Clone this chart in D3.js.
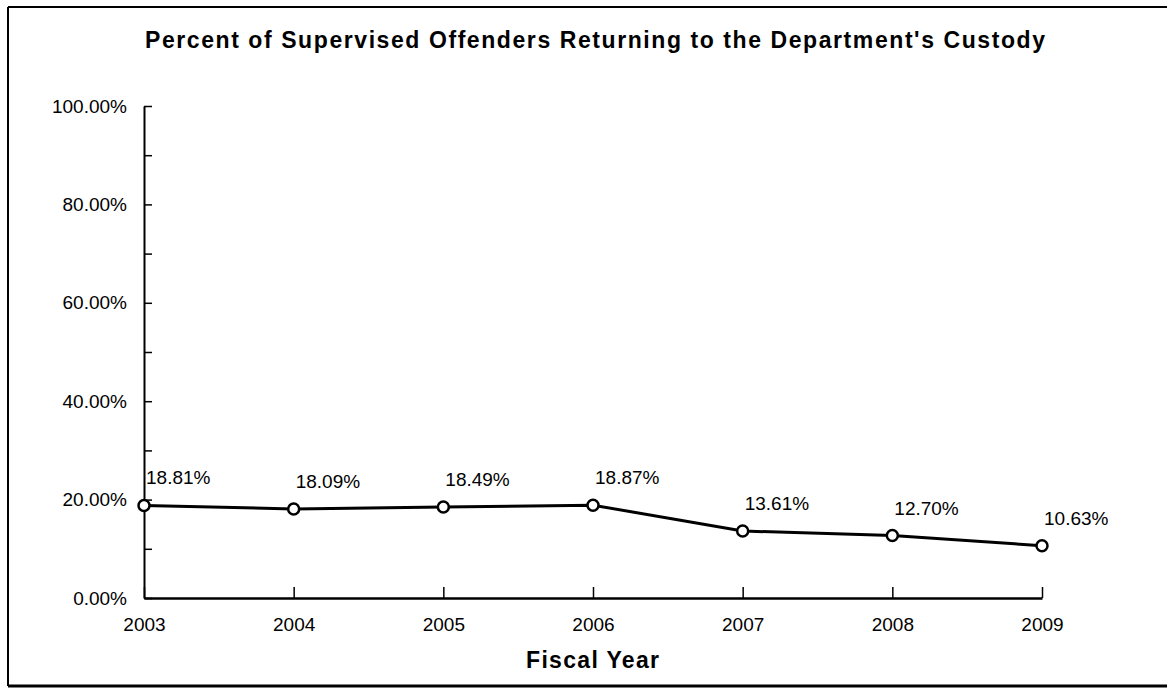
<!DOCTYPE html>
<html>
<head>
<meta charset="utf-8">
<script src="https://cdn.jsdelivr.net/npm/d3@7"></script>
<style>
  html, body { margin: 0; padding: 0; background: #fff; }
  svg { display: block; }
  text { font-family: "Liberation Sans", Arial, sans-serif; fill: #000; }
</style>
</head>
<body>
<svg id="chart" width="1167" height="690"></svg>
<script>
const title = "Percent of Supervised Offenders Returning to the Department's Custody";
const xTitle = "Fiscal Year";
const years = ["2003", "2004", "2005", "2006", "2007", "2008", "2009"];
const values = [18.81, 18.09, 18.49, 18.87, 13.61, 12.70, 10.63];
const yLabelTicks = [0, 20, 40, 60, 80, 100];
const yMinorTicks = [0, 10, 20, 30, 40, 50, 60, 70, 80, 90, 100];

const svg = d3.select("#chart");

// frame (top, left, bottom)
svg.append("line").attr("x1", 8).attr("x2", 1167).attr("y1", 7).attr("y2", 7)
  .attr("stroke", "#000").attr("stroke-width", 2);
svg.append("line").attr("x1", 8).attr("x2", 8).attr("y1", 7).attr("y2", 686)
  .attr("stroke", "#000").attr("stroke-width", 2);
svg.append("line").attr("x1", 8).attr("x2", 1167).attr("y1", 686).attr("y2", 686)
  .attr("stroke", "#000").attr("stroke-width", 3);

const x = d3.scalePoint().domain(years).range([144, 1042]);
const y = d3.scaleLinear().domain([0, 100]).range([598, 106]);

// title
svg.append("text")
  .attr("x", 145).attr("y", 48)
  .attr("textLength", 900).attr("lengthAdjust", "spacing")
  .style("font-size", "23px").style("font-weight", "bold")
  .text(title);

// y axis labels + domain line
const yAxis = svg.append("g").attr("transform", "translate(144,0)")
  .call(d3.axisLeft(y).tickValues(yLabelTicks).tickSize(0).tickSizeOuter(0).tickPadding(17)
    .tickFormat(d => d.toFixed(2) + "%"));
yAxis.select(".domain").attr("stroke", "#000").attr("stroke-width", 2);
yAxis.selectAll("text").style("font-size", "19px").style("font-family", "Liberation Sans, Arial, sans-serif");

// y inward ticks
const yTicks = svg.append("g").attr("transform", "translate(144,0)")
  .call(d3.axisRight(y).tickValues(yMinorTicks).tickSize(8).tickSizeOuter(0).tickFormat(""));
yTicks.select(".domain").remove();
yTicks.selectAll("line").attr("stroke", "#000").attr("stroke-width", 1.5);

// x axis labels + domain
const xAxis = svg.append("g").attr("transform", "translate(0,598)")
  .call(d3.axisBottom(x).tickSize(0).tickSizeOuter(0).tickPadding(20));
xAxis.select(".domain").attr("stroke", "#000").attr("stroke-width", 2.5);
xAxis.selectAll("text").style("font-size", "19px").style("font-family", "Liberation Sans, Arial, sans-serif");

// x inward ticks
const xTicks = svg.append("g").attr("transform", "translate(0,598)")
  .call(d3.axisTop(x).tickSize(11).tickSizeOuter(0).tickFormat(""));
xTicks.select(".domain").remove();
xTicks.selectAll("line").attr("stroke", "#000").attr("stroke-width", 1.5);

// x title
svg.append("text")
  .attr("x", 526).attr("y", 668)
  .attr("textLength", 133).attr("lengthAdjust", "spacing")
  .style("font-size", "23px").style("font-weight", "bold")
  .text(xTitle);

const data = years.map((yr, i) => ({ year: yr, value: values[i] }));

// line
svg.append("path")
  .datum(data)
  .attr("fill", "none").attr("stroke", "#000").attr("stroke-width", 3)
  .attr("d", d3.line().x(d => x(d.year)).y(d => y(d.value)));

// markers
svg.selectAll("circle.pt").data(data).enter().append("circle")
  .attr("class", "pt")
  .attr("cx", d => x(d.year)).attr("cy", d => y(d.value)).attr("r", 5.5)
  .attr("fill", "#fff").attr("stroke", "#000").attr("stroke-width", 2.5);

// data labels
svg.selectAll("text.lbl").data(data).enter().append("text")
  .attr("class", "lbl")
  .attr("x", d => x(d.year) + 2).attr("y", d => y(d.value) - 21)
  .style("font-size", "19px")
  .text(d => d.value.toFixed(2) + "%");
</script>
</body>
</html>
